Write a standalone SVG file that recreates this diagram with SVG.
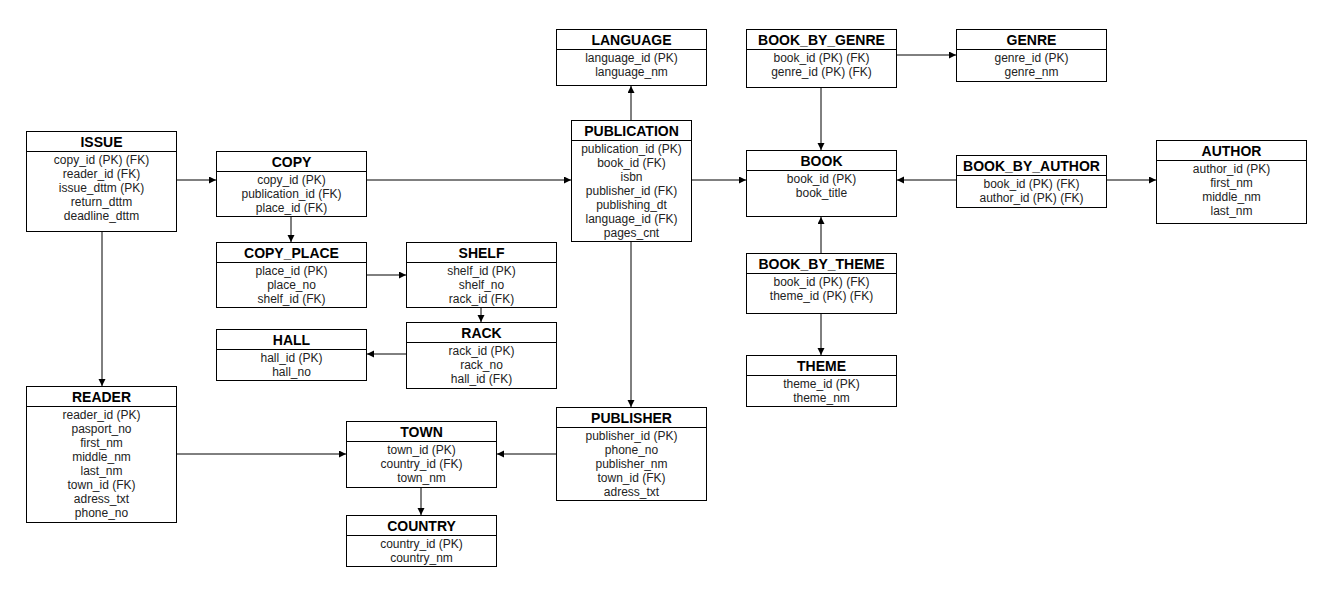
<svg xmlns="http://www.w3.org/2000/svg" width="1328" height="589" viewBox="0 0 1328 589">
<defs>
<style>
.box{fill:#fff;stroke:#000;stroke-width:1}
.hd{stroke:#000;stroke-width:1}
.t{font-family:"Liberation Sans",Arial,sans-serif;font-size:14px;font-weight:bold;fill:#000;text-anchor:middle}
.f{font-family:"Liberation Sans",Arial,sans-serif;font-size:12px;fill:#222;text-anchor:middle}
.c{fill:none;stroke:#000;stroke-width:1;marker-end:url(#arr)}
</style>
<marker id="arr" markerUnits="userSpaceOnUse" markerWidth="8" markerHeight="8" refX="7" refY="3.5" orient="auto">
<path d="M0,0 L7,3.5 L0,7 z" fill="#000"/>
</marker>
</defs>
<rect width="1328" height="589" fill="#fff"/>
<g id="connectors">
<path class="c" d="M177,180 H216"/>
<path class="c" d="M102,232 V386"/>
<path class="c" d="M291,217 V242"/>
<path class="c" d="M367,180 H571"/>
<path class="c" d="M367,275 H406"/>
<path class="c" d="M481,308 V322"/>
<path class="c" d="M406,354 H367"/>
<path class="c" d="M631,120 V86"/>
<path class="c" d="M692,180 H746"/>
<path class="c" d="M631,242 V407"/>
<path class="c" d="M897,55 H956"/>
<path class="c" d="M821,88 V150"/>
<path class="c" d="M956,180 H897"/>
<path class="c" d="M1107,180 H1156"/>
<path class="c" d="M821,253 V217"/>
<path class="c" d="M821,314 V355"/>
<path class="c" d="M177,454 H346"/>
<path class="c" d="M556,454 H497"/>
<path class="c" d="M421,488 V515"/>
</g>
<g id="ISSUE">
<rect class="box" x="26.5" y="131.5" width="150" height="100"/>
<line class="hd" x1="26.5" y1="151.5" x2="176.5" y2="151.5"/>
<text class="t" x="101.5" y="146.5">ISSUE</text>
<text class="f" x="101.5" y="163.5">copy_id (PK) (FK)</text>
<text class="f" x="101.5" y="177.5">reader_id (FK)</text>
<text class="f" x="101.5" y="191.5">issue_dttm (PK)</text>
<text class="f" x="101.5" y="205.5">return_dttm</text>
<text class="f" x="101.5" y="219.5">deadline_dttm</text>
</g>
<g id="COPY">
<rect class="box" x="216.5" y="151.5" width="150" height="65"/>
<line class="hd" x1="216.5" y1="171.5" x2="366.5" y2="171.5"/>
<text class="t" x="291.5" y="166.5">COPY</text>
<text class="f" x="291.5" y="183.5">copy_id (PK)</text>
<text class="f" x="291.5" y="197.5">publication_id (FK)</text>
<text class="f" x="291.5" y="211.5">place_id (FK)</text>
</g>
<g id="COPY_PLACE">
<rect class="box" x="216.5" y="242.5" width="150" height="65"/>
<line class="hd" x1="216.5" y1="262.5" x2="366.5" y2="262.5"/>
<text class="t" x="291.5" y="257.5">COPY_PLACE</text>
<text class="f" x="291.5" y="274.5">place_id (PK)</text>
<text class="f" x="291.5" y="288.5">place_no</text>
<text class="f" x="291.5" y="302.5">shelf_id (FK)</text>
</g>
<g id="SHELF">
<rect class="box" x="406.5" y="242.5" width="150" height="65"/>
<line class="hd" x1="406.5" y1="262.5" x2="556.5" y2="262.5"/>
<text class="t" x="481.5" y="257.5">SHELF</text>
<text class="f" x="481.5" y="274.5">shelf_id (PK)</text>
<text class="f" x="481.5" y="288.5">shelf_no</text>
<text class="f" x="481.5" y="302.5">rack_id (FK)</text>
</g>
<g id="RACK">
<rect class="box" x="406.5" y="322.5" width="150" height="66"/>
<line class="hd" x1="406.5" y1="342.5" x2="556.5" y2="342.5"/>
<text class="t" x="481.5" y="337.5">RACK</text>
<text class="f" x="481.5" y="354.5">rack_id (PK)</text>
<text class="f" x="481.5" y="368.5">rack_no</text>
<text class="f" x="481.5" y="382.5">hall_id (FK)</text>
</g>
<g id="HALL">
<rect class="box" x="216.5" y="329.5" width="150" height="51"/>
<line class="hd" x1="216.5" y1="349.5" x2="366.5" y2="349.5"/>
<text class="t" x="291.5" y="344.5">HALL</text>
<text class="f" x="291.5" y="361.5">hall_id (PK)</text>
<text class="f" x="291.5" y="375.5">hall_no</text>
</g>
<g id="READER">
<rect class="box" x="26.5" y="386.5" width="150" height="136"/>
<line class="hd" x1="26.5" y1="406.5" x2="176.5" y2="406.5"/>
<text class="t" x="101.5" y="401.5">READER</text>
<text class="f" x="101.5" y="418.5">reader_id (PK)</text>
<text class="f" x="101.5" y="432.5">pasport_no</text>
<text class="f" x="101.5" y="446.5">first_nm</text>
<text class="f" x="101.5" y="460.5">middle_nm</text>
<text class="f" x="101.5" y="474.5">last_nm</text>
<text class="f" x="101.5" y="488.5">town_id (FK)</text>
<text class="f" x="101.5" y="502.5">adress_txt</text>
<text class="f" x="101.5" y="516.5">phone_no</text>
</g>
<g id="TOWN">
<rect class="box" x="346.5" y="421.5" width="150" height="66"/>
<line class="hd" x1="346.5" y1="441.5" x2="496.5" y2="441.5"/>
<text class="t" x="421.5" y="436.5">TOWN</text>
<text class="f" x="421.5" y="453.5">town_id (PK)</text>
<text class="f" x="421.5" y="467.5">country_id (FK)</text>
<text class="f" x="421.5" y="481.5">town_nm</text>
</g>
<g id="COUNTRY">
<rect class="box" x="346.5" y="515.5" width="150" height="51"/>
<line class="hd" x1="346.5" y1="535.5" x2="496.5" y2="535.5"/>
<text class="t" x="421.5" y="530.5">COUNTRY</text>
<text class="f" x="421.5" y="547.5">country_id (PK)</text>
<text class="f" x="421.5" y="561.5">country_nm</text>
</g>
<g id="PUBLISHER">
<rect class="box" x="556.5" y="407.5" width="150" height="93"/>
<line class="hd" x1="556.5" y1="427.5" x2="706.5" y2="427.5"/>
<text class="t" x="631.5" y="422.5">PUBLISHER</text>
<text class="f" x="631.5" y="439.5">publisher_id (PK)</text>
<text class="f" x="631.5" y="453.5">phone_no</text>
<text class="f" x="631.5" y="467.5">publisher_nm</text>
<text class="f" x="631.5" y="481.5">town_id (FK)</text>
<text class="f" x="631.5" y="495.5">adress_txt</text>
</g>
<g id="LANGUAGE">
<rect class="box" x="556.5" y="29.5" width="150" height="56"/>
<line class="hd" x1="556.5" y1="49.5" x2="706.5" y2="49.5"/>
<text class="t" x="631.5" y="44.5">LANGUAGE</text>
<text class="f" x="631.5" y="61.5">language_id (PK)</text>
<text class="f" x="631.5" y="75.5">language_nm</text>
</g>
<g id="PUBLICATION">
<rect class="box" x="571.5" y="120.5" width="120" height="121"/>
<line class="hd" x1="571.5" y1="140.5" x2="691.5" y2="140.5"/>
<text class="t" x="631.5" y="135.5">PUBLICATION</text>
<text class="f" x="631.5" y="152.5">publication_id (PK)</text>
<text class="f" x="631.5" y="166.5">book_id (FK)</text>
<text class="f" x="631.5" y="180.5">isbn</text>
<text class="f" x="631.5" y="194.5">publisher_id (FK)</text>
<text class="f" x="631.5" y="208.5">publishing_dt</text>
<text class="f" x="631.5" y="222.5">language_id (FK)</text>
<text class="f" x="631.5" y="236.5">pages_cnt</text>
</g>
<g id="BOOK_BY_GENRE">
<rect class="box" x="746.5" y="29.5" width="150" height="58"/>
<line class="hd" x1="746.5" y1="49.5" x2="896.5" y2="49.5"/>
<text class="t" x="821.5" y="44.5">BOOK_BY_GENRE</text>
<text class="f" x="821.5" y="61.5">book_id (PK) (FK)</text>
<text class="f" x="821.5" y="75.5">genre_id (PK) (FK)</text>
</g>
<g id="GENRE">
<rect class="box" x="956.5" y="29.5" width="150" height="52"/>
<line class="hd" x1="956.5" y1="49.5" x2="1106.5" y2="49.5"/>
<text class="t" x="1031.5" y="44.5">GENRE</text>
<text class="f" x="1031.5" y="61.5">genre_id (PK)</text>
<text class="f" x="1031.5" y="75.5">genre_nm</text>
</g>
<g id="BOOK">
<rect class="box" x="746.5" y="150.5" width="150" height="66"/>
<line class="hd" x1="746.5" y1="170.5" x2="896.5" y2="170.5"/>
<text class="t" x="821.5" y="165.5">BOOK</text>
<text class="f" x="821.5" y="182.5">book_id (PK)</text>
<text class="f" x="821.5" y="196.5">book_title</text>
</g>
<g id="BOOK_BY_AUTHOR">
<rect class="box" x="956.5" y="155.5" width="150" height="52"/>
<line class="hd" x1="956.5" y1="175.5" x2="1106.5" y2="175.5"/>
<text class="t" x="1031.5" y="170.5">BOOK_BY_AUTHOR</text>
<text class="f" x="1031.5" y="187.5">book_id (PK) (FK)</text>
<text class="f" x="1031.5" y="201.5">author_id (PK) (FK)</text>
</g>
<g id="AUTHOR">
<rect class="box" x="1156.5" y="140.5" width="150" height="83"/>
<line class="hd" x1="1156.5" y1="160.5" x2="1306.5" y2="160.5"/>
<text class="t" x="1231.5" y="155.5">AUTHOR</text>
<text class="f" x="1231.5" y="172.5">author_id (PK)</text>
<text class="f" x="1231.5" y="186.5">first_nm</text>
<text class="f" x="1231.5" y="200.5">middle_nm</text>
<text class="f" x="1231.5" y="214.5">last_nm</text>
</g>
<g id="BOOK_BY_THEME">
<rect class="box" x="746.5" y="253.5" width="150" height="60"/>
<line class="hd" x1="746.5" y1="273.5" x2="896.5" y2="273.5"/>
<text class="t" x="821.5" y="268.5">BOOK_BY_THEME</text>
<text class="f" x="821.5" y="285.5">book_id (PK) (FK)</text>
<text class="f" x="821.5" y="299.5">theme_id (PK) (FK)</text>
</g>
<g id="THEME">
<rect class="box" x="746.5" y="355.5" width="150" height="51"/>
<line class="hd" x1="746.5" y1="375.5" x2="896.5" y2="375.5"/>
<text class="t" x="821.5" y="370.5">THEME</text>
<text class="f" x="821.5" y="387.5">theme_id (PK)</text>
<text class="f" x="821.5" y="401.5">theme_nm</text>
</g>
</svg>
